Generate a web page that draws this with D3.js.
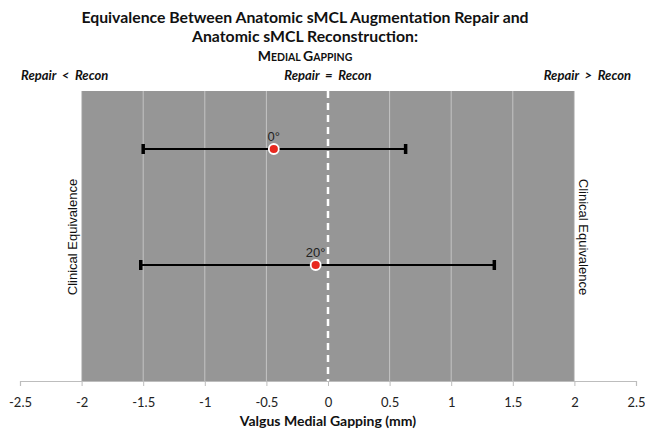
<!DOCTYPE html>
<html><head><meta charset="utf-8">
<script src="https://cdn.jsdelivr.net/npm/d3@7"></script>
<style>body{margin:0;background:#fff}svg{display:block}</style>
</head><body>
<svg id="c" width="645" height="429"></svg>
<script>
const labels = ["0°", "20°"];
const means = [-0.44, -0.10];
const lower = [-1.50, -1.52];
const upper = [0.63, 1.35];
const yPos = [4, 2];
const xTicks = [-2.5, -2, -1.5, -1, -0.5, 0, 0.5, 1, 1.5, 2, 2.5];
const equivBounds = [-2, 2];

const svg = d3.select("#c");
const x = d3.scaleLinear().domain([-2.5, 2.5]).range([20, 636]);
const y = d3.scaleLinear().domain([0, 5]).range([381, 91]);

svg.append("rect").attr("x", x(equivBounds[0])).attr("y", y(5))
  .attr("width", x(equivBounds[1]) - x(equivBounds[0])).attr("height", y(0) - y(5))
  .attr("fill", "#969696");
svg.selectAll(".g").data(xTicks.filter(t => t > -2 && t < 2 && t !== 0)).enter().append("line")
  .attr("x1", d => x(d)).attr("x2", d => x(d)).attr("y1", y(5)).attr("y2", y(0))
  .attr("stroke", "#c4c4c4").attr("stroke-width", 1);
svg.selectAll(".b").data(equivBounds).enter().append("line")
  .attr("x1", d => x(d)).attr("x2", d => x(d)).attr("y1", y(5)).attr("y2", y(0))
  .attr("stroke", "#d0d0d0").attr("stroke-width", 1);
svg.append("line").attr("x1", x(0)).attr("x2", x(0)).attr("y1", y(5)).attr("y2", y(0))
  .attr("stroke", "#fff").attr("stroke-width", 2.5).attr("stroke-dasharray", "7,5");

const ax = svg.append("g").attr("transform", `translate(0,${y(0)})`)
  .call(d3.axisBottom(x).tickValues(xTicks).tickSize(5).tickPadding(12).tickFormat(d => String(d)));
ax.select(".domain").attr("stroke", "#bdbdbd").attr("stroke-width", 1.2);
ax.selectAll(".tick line").attr("stroke", "#bdbdbd");
ax.selectAll(".tick text").attr("font-family", "Lato, 'Open Sans', sans-serif").attr("font-size", 13).attr("fill", "#222");

const data = labels.map((l, i) => ({l, m: means[i], lo: lower[i], hi: upper[i], y: yPos[i]}));
const g = svg.selectAll(".pt").data(data).enter().append("g");
g.append("line").attr("x1", d => x(d.lo)).attr("x2", d => x(d.hi)).attr("y1", d => y(d.y)).attr("y2", d => y(d.y))
  .attr("stroke", "#000").attr("stroke-width", 2);
g.append("line").attr("x1", d => x(d.lo)).attr("x2", d => x(d.lo)).attr("y1", d => y(d.y) - 5).attr("y2", d => y(d.y) + 5)
  .attr("stroke", "#000").attr("stroke-width", 3.5);
g.append("line").attr("x1", d => x(d.hi)).attr("x2", d => x(d.hi)).attr("y1", d => y(d.y) - 5).attr("y2", d => y(d.y) + 5)
  .attr("stroke", "#000").attr("stroke-width", 3.5);
g.append("circle").attr("cx", d => x(d.m)).attr("cy", d => y(d.y)).attr("r", 5)
  .attr("fill", "#e8281e").attr("stroke", "#fff").attr("stroke-width", 1.8);
g.append("text").attr("x", d => x(d.m)).attr("y", d => y(d.y) - 8).attr("text-anchor", "middle")
  .attr("font-family", "'Liberation Sans', Arial, sans-serif").attr("font-size", 13).attr("fill", "#222")
  .text(d => d.l);

const tf = "Lato, 'Open Sans', sans-serif";
svg.append("text").attr("x", 305).attr("y", 23).attr("text-anchor", "middle").attr("font-family", tf)
  .attr("font-weight", "bold").attr("font-size", 15.8).attr("fill", "#111")
  .text("Equivalence Between Anatomic sMCL Augmentation Repair and");
svg.append("text").attr("x", 305).attr("y", 42).attr("text-anchor", "middle").attr("font-family", tf)
  .attr("font-weight", "bold").attr("font-size", 15.8).attr("fill", "#111")
  .text("Anatomic sMCL Reconstruction:");
const t3 = svg.append("text").attr("x", 305).attr("y", 61).attr("text-anchor", "middle").attr("font-family", tf)
  .attr("font-weight", "bold").attr("fill", "#111");
[["M",14],["EDIAL ",10.5],["G",14],["APPING",10.5]].forEach(([s,f]) => t3.append("tspan").attr("font-size", f).text(s));

const rf = [["Repair  <  Recon", 21, "start"], ["Repair  =  Recon", 328, "middle"], ["Repair  >  Recon", 631, "end"]];
rf.forEach(([s, xx, a]) => svg.append("text").attr("x", xx).attr("y", 80).attr("text-anchor", a)
  .attr("font-family", tf).attr("font-weight", "bold").attr("font-style", "italic")
  .attr("font-size", 13).attr("fill", "#111").style("white-space", "pre").text(s));

svg.append("text").attr("transform", `translate(77,237) rotate(-90)`).attr("text-anchor", "middle")
  .attr("font-family", "'Liberation Sans', Arial, sans-serif").attr("font-size", 13).attr("fill", "#111")
  .text("Clinical Equivalence");
svg.append("text").attr("transform", `translate(579,237) rotate(90)`).attr("text-anchor", "middle")
  .attr("font-family", "'Liberation Sans', Arial, sans-serif").attr("font-size", 13).attr("fill", "#111")
  .text("Clinical Equivalence");

svg.append("text").attr("x", 328).attr("y", 426).attr("text-anchor", "middle").attr("font-family", tf)
  .attr("font-weight", "bold").attr("font-size", 14).attr("fill", "#111").text("Valgus Medial Gapping (mm)");
</script>
</body></html>
